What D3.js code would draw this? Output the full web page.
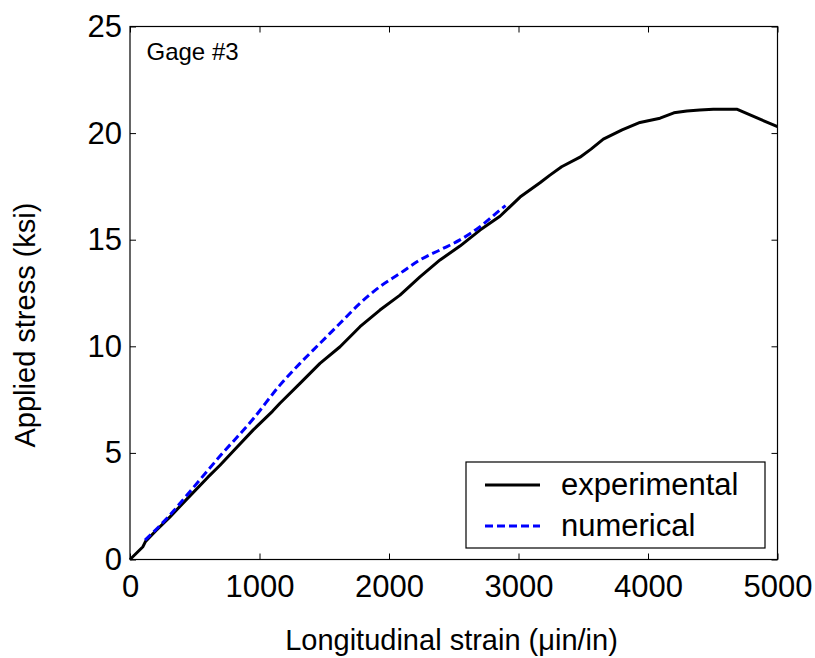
<!DOCTYPE html>
<html lang="en">
<head>
    <meta charset="UTF-8">
    <title>Gage #3 stress-strain</title>
    <style>
        body { margin: 0; background: #fff; }
        svg { display: block; font-family: Arial, "Liberation Sans", sans-serif; }
    </style>
</head>
<body>
    <svg width="815" height="658"></svg>

    <script src="https://d3js.org/d3.v7.min.js"></script>
    <script>
        // experimental curve: strain (µin/in) and stress (ksi)
        const expStrain = [0, 100, 120, 200, 309, 437, 600, 695, 800, 952, 1100, 1158, 1313, 1467, 1622, 1776, 1930, 2085, 2239, 2394, 2548, 2703, 2857, 3012, 3166, 3243, 3333, 3475, 3560, 3655, 3800, 3938, 4093, 4200, 4300, 4400, 4504, 4685, 5000];
        const expStress = [0, 0.6, 0.85, 1.35, 2.0, 2.82, 3.85, 4.42, 5.1, 6.08, 6.95, 7.33, 8.26, 9.2, 9.98, 10.92, 11.7, 12.4, 13.26, 14.05, 14.7, 15.45, 16.1, 17.0, 17.67, 18.03, 18.42, 18.87, 19.25, 19.72, 20.15, 20.5, 20.7, 20.95, 21.04, 21.08, 21.12, 21.12, 20.3];

        // numerical curve
        const numStrain = [116, 309, 437, 695, 952, 1158, 1313, 1467, 1622, 1776, 1930, 2085, 2239, 2394, 2548, 2703, 2857, 2900];
        const numStress = [0.91, 2.09, 3.0, 4.85, 6.6, 8.18, 9.2, 10.14, 11.08, 12.02, 12.8, 13.42, 14.05, 14.52, 14.99, 15.61, 16.39, 16.6];

        const xTicks = [0, 1000, 2000, 3000, 4000, 5000];
        const yTicks = [0, 5, 10, 15, 20, 25];

        const experimental = expStrain.map((s, i) => [s, expStress[i]]);
        const numerical = numStrain.map((s, i) => [s, numStress[i]]);

        const svg = d3.select("svg");
        const plot = { left: 130, right: 777.5, top: 26.5, bottom: 559.5 };

        const x = d3.scaleLinear().domain([0, 5000]).range([plot.left, plot.right]);
        const y = d3.scaleLinear().domain([0, 25]).range([plot.bottom, plot.top]);

        const tickFont = "31px";

        // bottom axis
        const gx = svg.append("g")
            .attr("transform", `translate(0,${plot.bottom})`)
            .call(d3.axisBottom(x).tickValues(xTicks).tickFormat(d3.format("d"))
                .tickSize(-6).tickPadding(15.5).tickSizeOuter(0));
        // left axis
        const gy = svg.append("g")
            .attr("transform", `translate(${plot.left},0)`)
            .call(d3.axisLeft(y).tickValues(yTicks).tickFormat(d3.format("d"))
                .tickSize(-6).tickPadding(8).tickSizeOuter(0));
        // top and right mirrored ticks
        svg.append("g")
            .attr("transform", `translate(0,${plot.top})`)
            .call(d3.axisTop(x).tickValues(xTicks).tickSize(-6).tickFormat("").tickSizeOuter(0));
        svg.append("g")
            .attr("transform", `translate(${plot.right},0)`)
            .call(d3.axisRight(y).tickValues(yTicks).tickSize(-6).tickFormat("").tickSizeOuter(0));

        svg.selectAll(".domain").remove();
        svg.selectAll(".tick line").attr("stroke", "#000").attr("stroke-width", 1);
        [gx, gy].forEach(g => g.selectAll("text")
            .attr("font-size", tickFont)
            .attr("font-family", "Arial, 'Liberation Sans', sans-serif")
            .attr("fill", "#000"));

        // frame
        svg.append("rect")
            .attr("x", plot.left).attr("y", plot.top)
            .attr("width", plot.right - plot.left).attr("height", plot.bottom - plot.top)
            .attr("fill", "none").attr("stroke", "#000").attr("stroke-width", 1.2);

        const line = d3.line().x(d => x(d[0])).y(d => y(d[1]));

        svg.append("path")
            .datum(experimental)
            .attr("d", line)
            .attr("fill", "none")
            .attr("stroke", "#000")
            .attr("stroke-width", 3)
            .attr("stroke-linejoin", "round");

        svg.append("path")
            .datum(numerical)
            .attr("d", line.curve(d3.curveMonotoneX))
            .attr("fill", "none")
            .attr("stroke", "#0000ff")
            .attr("stroke-width", 3)
            .attr("stroke-dasharray", "8,4");

        // gage label
        svg.append("text")
            .attr("x", 146.5).attr("y", 60)
            .attr("font-size", "24px")
            .text("Gage #3");

        // axis titles
        svg.append("text")
            .attr("x", 451.5).attr("y", 650)
            .attr("text-anchor", "middle")
            .attr("font-size", "29px")
            .text("Longitudinal strain (\u03bcin/in)");

        svg.append("text")
            .attr("transform", "translate(35,325) rotate(-90)")
            .attr("text-anchor", "middle")
            .attr("font-size", "29px")
            .text("Applied stress (ksi)");

        // legend
        const legend = svg.append("g");
        legend.append("rect")
            .attr("x", 466).attr("y", 462)
            .attr("width", 299).attr("height", 86)
            .attr("fill", "#fff").attr("stroke", "#000").attr("stroke-width", 1.2);

        const legendItems = [
            { name: "experimental", color: "#000", dash: null, ly: 485 },
            { name: "numerical", color: "#0000ff", dash: "8,4", ly: 526 }
        ];
        legendItems.forEach(d => {
            legend.append("line")
                .attr("x1", 485).attr("x2", 540)
                .attr("y1", d.ly).attr("y2", d.ly)
                .attr("stroke", d.color).attr("stroke-width", 3)
                .attr("stroke-dasharray", d.dash);
            legend.append("text")
                .attr("x", 561).attr("y", d.ly + 10)
                .attr("font-size", "31px")
                .text(d.name);
        });
    </script>
</body>
</html>
